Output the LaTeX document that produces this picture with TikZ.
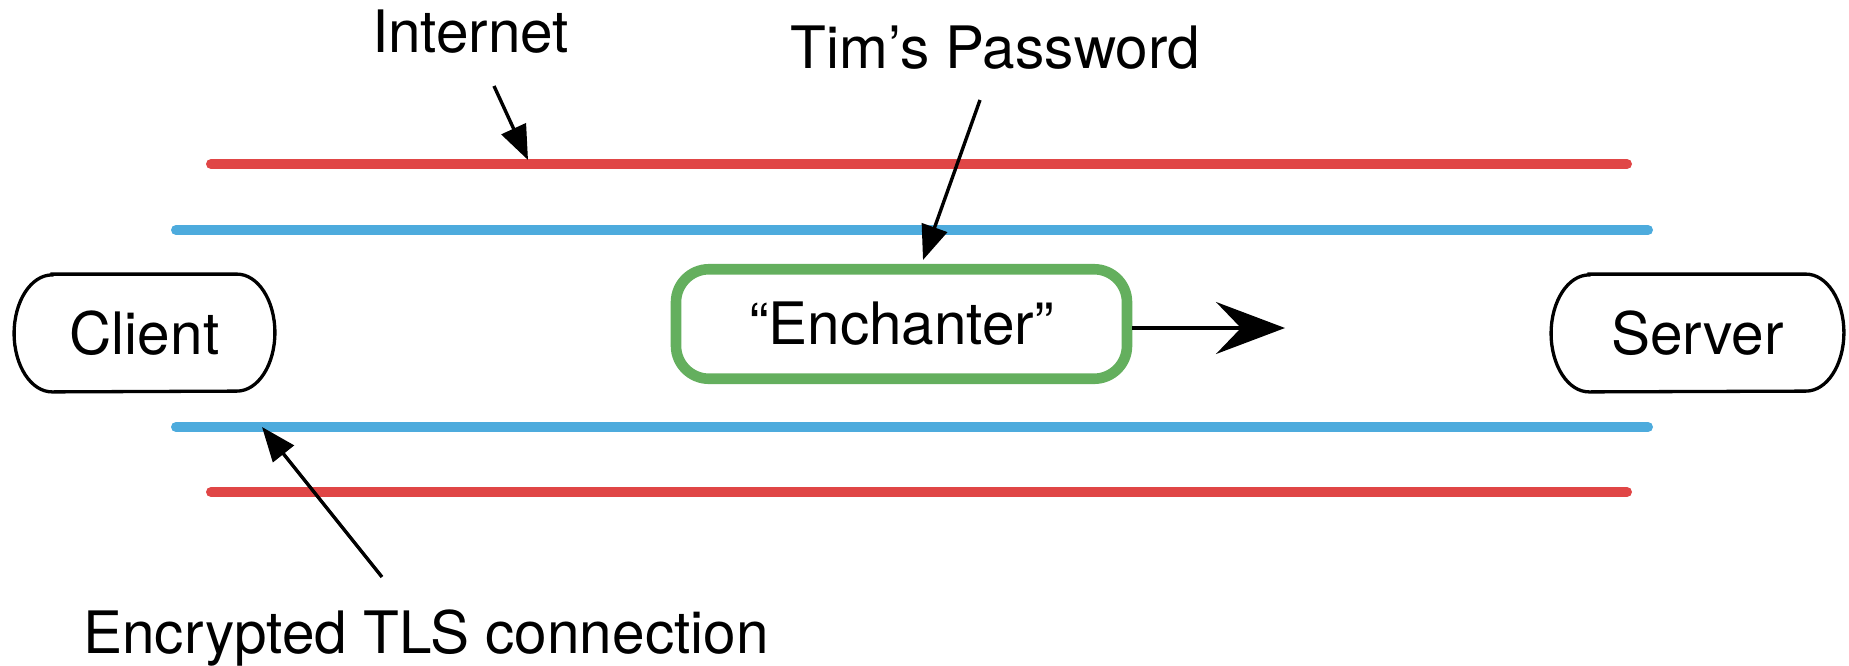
\documentclass[tikz,border=0pt]{standalone}
\usepackage{fontspec}
\setmainfont{TeX Gyre Heros}
\usetikzlibrary{arrows.meta}
\definecolor{netred}{RGB}{224,70,70}
\definecolor{tlsblue}{RGB}{77,171,221}
\definecolor{boxgreen}{RGB}{100,175,94}

\begin{document}
\begin{tikzpicture}[x=0.5pt,y=-0.5pt,
  txt/.style={font=\fontsize{29.25}{35}\selectfont, inner sep=0pt},
  pipe/.style={line width=5pt, line cap=round},
  pointer/.style={line width=1.7pt, -{Triangle[length=17.25pt,width=13.25pt]}},
  flow/.style={line width=1.6pt, -{Stealth[length=34.5pt,width=26pt,inset=12.5pt]}},
  endpoint/.style={txt, minimum height=58.5pt},
  capsule/.style={line width=1.65pt}
]
\useasboundingbox (0,0) rectangle (1849,665);

% the two channels: Internet (red) and TLS (blue)
\draw[pipe, netred]  (211,164) -- (1627,164);
\draw[pipe, tlsblue] (176,230) -- (1648,230);
\draw[pipe, tlsblue] (176,427) -- (1648,427);
\draw[pipe, netred]  (211,492) -- (1627,492);

% end points
\node[endpoint, minimum width=130pt] (client) at (144.5,333) {Client};
\node[endpoint, minimum width=146pt] (server) at (1697.5,333) {Server};
\foreach \n in {client,server}{
  \draw[capsule] ([xshift=19pt]\n.north west) -- ([xshift=-19pt]\n.north east)
    arc[start angle=90, end angle=-90, x radius=19pt, y radius=29.25pt]
    -- ([xshift=19pt]\n.south west)
    arc[start angle=270, end angle=90, x radius=19pt, y radius=29.25pt] -- cycle;
}

% the secret travelling inside the tunnel
\node[txt, draw=boxgreen, line width=5.3pt, rounded corners=16.5pt,
      minimum width=225.5pt, minimum height=54.75pt] (ench) at (901.5,324) {“Enchanter”};
\coordinate (flowTip) at (1285,328);
\draw[flow] (ench.east |- flowTip) -- (flowTip);

% labels
\node[txt, anchor=base] (inet) at (470.5,52) {Internet};
\node[txt, anchor=base] (pwd) at (995.5,68) {Tim’s Password};
\node[txt, anchor=base] (tls) at (426,653) {Encrypted TLS connection};

% label pointers
\coordinate (inetTail) at (494,86);  \coordinate (inetTip) at (528,160);
\coordinate (pwdTail) at (980,100);  \coordinate (pwdTip) at (923,260);
\coordinate (tlsTail) at (382,577);  \coordinate (tlsTip) at (262,427);
\draw[pointer] (inetTail) -- (inetTip);
\draw[pointer] (pwdTail) -- (pwdTip);
\draw[pointer] (tlsTail) -- (tlsTip);
\end{tikzpicture}
\end{document}
